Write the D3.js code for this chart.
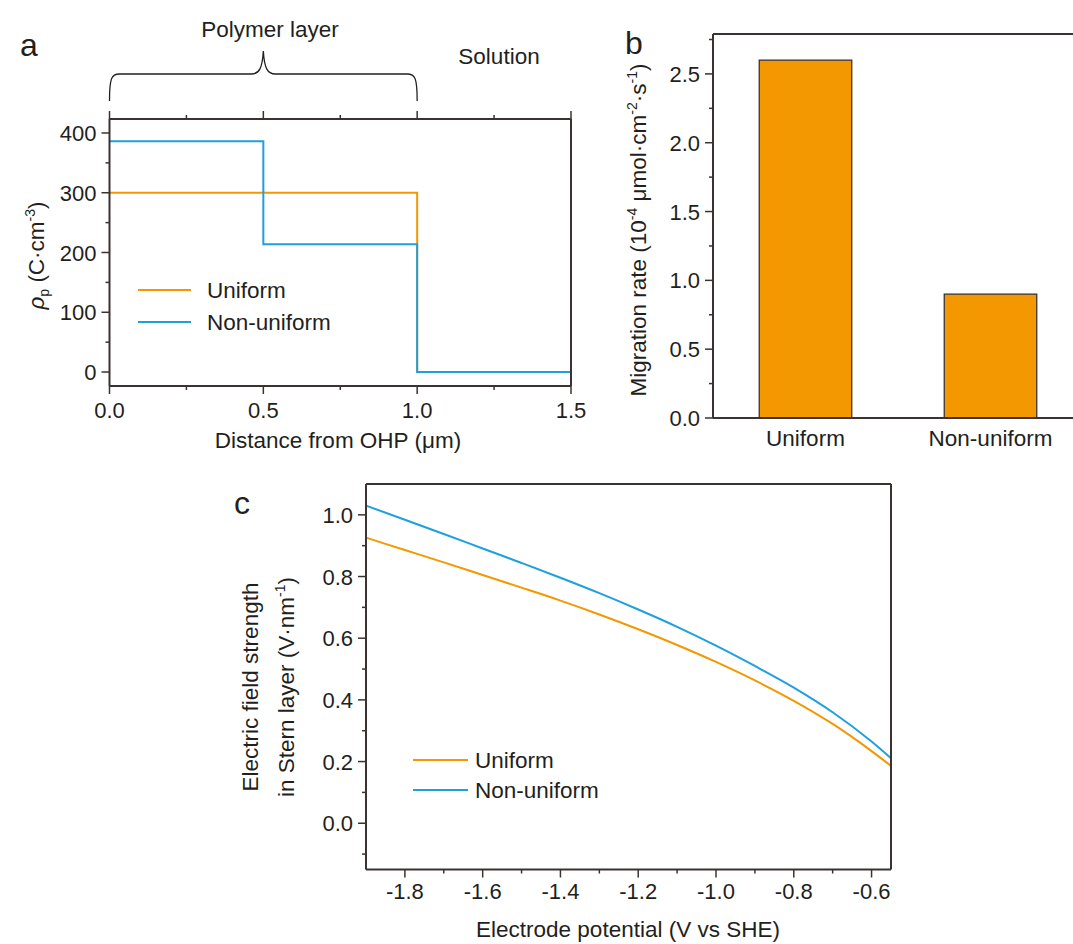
<!DOCTYPE html>
<html>
<head>
<meta charset="utf-8">
<script src="https://cdn.jsdelivr.net/npm/d3@7"></script>
<style>
  html, body { margin: 0; padding: 0; background: #fff; }
  svg { display: block; font-family: "Liberation Sans", Arial, sans-serif; }
  text { fill: #231f20; }
</style>
</head>
<body>
<svg id="fig" width="1073" height="944"></svg>
<script>
// ---- data ----
// panel a: charge density profiles (step functions)
const distUniform = [0, 1.0, 1.0, 1.5];
const rhoUniform = [300, 300, 0, 0];
const distNonUniform = [0, 0.5, 0.5, 1.0, 1.0, 1.5];
const rhoNonUniform = [386, 386, 214, 214, 0, 0];
const ticksA_x = [0, 0.5, 1.0, 1.5];
const ticksA_y = [0, 100, 200, 300, 400];

// panel b: migration rates
const categories = ["Uniform", "Non-uniform"];
const migrationRate = [2.6, 0.9];
const ticksB_y = [0, 0.5, 1.0, 1.5, 2.0, 2.5];

// panel c: electric field in Stern layer vs electrode potential
const potential = [-1.9, -1.8, -1.7, -1.6, -1.5, -1.4, -1.3, -1.2, -1.1, -1.0, -0.9, -0.8, -0.7, -0.6, -0.55];
const fieldUniform = [0.926, 0.886, 0.846, 0.805, 0.764, 0.722, 0.677, 0.629, 0.578, 0.523, 0.463, 0.397, 0.322, 0.234, 0.186];
const fieldNonUniform = [1.030, 0.984, 0.938, 0.891, 0.844, 0.796, 0.746, 0.693, 0.637, 0.576, 0.510, 0.440, 0.360, 0.265, 0.211];
const ticksC_x = [-1.8, -1.6, -1.4, -1.2, -1.0, -0.8, -0.6];
const ticksC_y = [0.0, 0.2, 0.4, 0.6, 0.8, 1.0];

const ORANGE = "#f39800";
const BLUE = "#1fa0de";
const AXIS = "#3b3331";
const TICK_FONT = 22;
const LABEL_FONT = 22.5;
const SUP = 14;

const svg = d3.select("#fig");

// draw ticks along an axis line
function ticks(g, vals, pos, orient, len) {
  vals.forEach(v => {
    const p = pos(v);
    let x1, y1, x2, y2;
    if (orient.type === "left") { x1 = orient.at; x2 = orient.at - len; y1 = y2 = p; }
    if (orient.type === "bottom") { y1 = orient.at; y2 = orient.at + len; x1 = x2 = p; }
    if (orient.type === "top") { y1 = orient.at; y2 = orient.at - len; x1 = x2 = p; }
    g.append("line").attr("x1", x1).attr("y1", y1).attr("x2", x2).attr("y2", y2)
      .attr("stroke", AXIS).attr("stroke-width", 1.5);
  });
}
function frameLine(g, x1, y1, x2, y2) {
  g.append("line").attr("x1", x1).attr("y1", y1).attr("x2", x2).attr("y2", y2)
    .attr("stroke", AXIS).attr("stroke-width", 2);
}
function range(a, b, s) { const r = []; for (let v = a; v <= b + 1e-9; v += s) r.push(+v.toFixed(4)); return r; }

// ================= panel a =================
{
  const g = svg.append("g");
  const x = d3.scaleLinear().domain([0, 1.5]).range([109.5, 571]);
  const y = d3.scaleLinear().domain([-23.4, 423.4]).range([386, 119]);
  const [L, R] = x.range(), [B, T] = y.range();

  const line = d3.line().x(d => x(d[0])).y(d => y(d[1]));
  g.append("path").datum(distUniform.map((d, i) => [d, rhoUniform[i]]))
    .attr("d", line).attr("fill", "none").attr("stroke", ORANGE).attr("stroke-width", 2);
  g.append("path").datum(distNonUniform.map((d, i) => [d, rhoNonUniform[i]]))
    .attr("d", line).attr("fill", "none").attr("stroke", BLUE).attr("stroke-width", 2);

  frameLine(g, L, T, R, T); frameLine(g, L, B, R, B);
  frameLine(g, L, T, L, B); frameLine(g, R, T, R, B);

  ticks(g, ticksA_x, x, { type: "bottom", at: B }, 8);
  ticks(g, range(0.25, 1.25, 0.5), x, { type: "bottom", at: B }, 4);
  ticks(g, ticksA_x, x, { type: "top", at: T }, 8);
  ticks(g, range(0.25, 1.25, 0.5), x, { type: "top", at: T }, 4);
  ticks(g, ticksA_y, y, { type: "left", at: L }, 8);
  ticks(g, range(50, 350, 100), y, { type: "left", at: L }, 4);

  ticksA_x.forEach(v => g.append("text").attr("x", x(v)).attr("y", B + 32)
    .attr("text-anchor", "middle").attr("font-size", TICK_FONT).text(v.toFixed(1)));
  ticksA_y.forEach(v => g.append("text").attr("x", L - 13).attr("y", y(v) + 8)
    .attr("text-anchor", "end").attr("font-size", TICK_FONT).text(v));

  g.append("text").attr("x", 338).attr("y", 448).attr("text-anchor", "middle")
    .attr("font-size", LABEL_FONT).text("Distance from OHP (μm)");

  const yl = g.append("text").attr("transform", `translate(44,${(T + B) / 2 + 3}) rotate(-90)`)
    .attr("text-anchor", "middle").attr("font-size", LABEL_FONT);
  yl.append("tspan").attr("font-style", "italic").text("ρ");
  yl.append("tspan").attr("font-size", SUP).attr("dy", 5).text("p");
  yl.append("tspan").attr("dy", -5).text(" (C·cm");
  yl.append("tspan").attr("font-size", SUP).attr("dy", -9).text("-3");
  yl.append("tspan").attr("dy", 9).text(")");

  // legend
  const leg = [["Uniform", ORANGE, 290], ["Non-uniform", BLUE, 322]];
  leg.forEach(([t, c, yy]) => {
    g.append("line").attr("x1", 138).attr("x2", 191).attr("y1", yy).attr("y2", yy)
      .attr("stroke", c).attr("stroke-width", 2);
    g.append("text").attr("x", 207).attr("y", yy + 8).attr("font-size", LABEL_FONT).text(t);
  });

  // curly brace spanning the polymer layer
  const x0 = x(0), x1 = x(1.0), xm = x(0.5);
  const yEnd = 101, yBar = 74, yTip = 51;
  const brace = `M${x0},${yEnd} C${x0},${yBar + 4} ${x0 + 2},${yBar} ${x0 + 10},${yBar}
    L${xm - 12},${yBar} C${xm - 4},${yBar} ${xm - 1},${yBar - 6} ${xm},${yTip}
    C${xm + 1},${yBar - 6} ${xm + 4},${yBar} ${xm + 12},${yBar}
    L${x1 - 10},${yBar} C${x1 - 2},${yBar} ${x1},${yBar + 4} ${x1},${yEnd}`;
  g.append("path").attr("d", brace).attr("fill", "none").attr("stroke", "#231f20").attr("stroke-width", 1.3);

  g.append("text").attr("x", 270).attr("y", 37).attr("text-anchor", "middle")
    .attr("font-size", LABEL_FONT).text("Polymer layer");
  g.append("text").attr("x", 499).attr("y", 64).attr("text-anchor", "middle")
    .attr("font-size", LABEL_FONT).text("Solution");
  g.append("text").attr("x", 20).attr("y", 56).attr("font-size", 32).text("a");
}

// ================= panel b =================
{
  const g = svg.append("g");
  const x = d3.scaleBand().domain(categories).range([713, 1083]).paddingInner(0.5).paddingOuter(0.25);
  const y = d3.scaleLinear().domain([0, 2.79]).range([418, 34]);
  const L = 713, [B, T] = y.range();

  g.selectAll("rect.bar").data(categories).join("rect").attr("class", "bar")
    .attr("x", d => x(d)).attr("width", x.bandwidth())
    .attr("y", (d, i) => y(migrationRate[i]))
    .attr("height", (d, i) => y(0) - y(migrationRate[i]))
    .attr("fill", ORANGE).attr("stroke", "#3b3331").attr("stroke-width", 1.3);

  frameLine(g, L, T, 1073, T); frameLine(g, L, B, 1073, B);
  frameLine(g, L, T, L, B);
  ticks(g, ticksB_y, y, { type: "left", at: L }, 8);
  ticks(g, range(0.25, 2.75, 0.5), y, { type: "left", at: L }, 4);

  ticksB_y.forEach(v => g.append("text").attr("x", L - 13).attr("y", y(v) + 8)
    .attr("text-anchor", "end").attr("font-size", TICK_FONT).text(v.toFixed(1)));
  categories.forEach(c => g.append("text").attr("x", x(c) + x.bandwidth() / 2).attr("y", B + 28)
    .attr("text-anchor", "middle").attr("font-size", LABEL_FONT).text(c));

  const yl = g.append("text").attr("transform", `translate(646,${(T + B) / 2 + 4}) rotate(-90)`)
    .attr("text-anchor", "middle").attr("font-size", LABEL_FONT);
  yl.append("tspan").text("Migration rate (10");
  yl.append("tspan").attr("font-size", SUP).attr("dy", -9).text("-4");
  yl.append("tspan").attr("dy", 9).text(" μmol·cm");
  yl.append("tspan").attr("font-size", SUP).attr("dy", -9).text("-2");
  yl.append("tspan").attr("dy", 9).text("·s");
  yl.append("tspan").attr("font-size", SUP).attr("dy", -9).text("-1");
  yl.append("tspan").attr("dy", 9).text(")");

  g.append("text").attr("x", 625).attr("y", 54).attr("font-size", 32).text("b");
}

// ================= panel c =================
{
  const g = svg.append("g");
  const x = d3.scaleLinear().domain([-1.9, -0.55]).range([366, 891]);
  const y = d3.scaleLinear().domain([-0.15, 1.1]).range([869.5, 484]);
  const [L, R] = x.range(), [B, T] = y.range();

  const line = d3.line().curve(d3.curveMonotoneX).x(d => x(d[0])).y(d => y(d[1]));
  g.append("path").datum(potential.map((p, i) => [p, fieldUniform[i]]))
    .attr("d", line).attr("fill", "none").attr("stroke", ORANGE).attr("stroke-width", 2);
  g.append("path").datum(potential.map((p, i) => [p, fieldNonUniform[i]]))
    .attr("d", line).attr("fill", "none").attr("stroke", BLUE).attr("stroke-width", 2);

  frameLine(g, L, T, R, T); frameLine(g, L, B, R, B);
  frameLine(g, L, T, L, B); frameLine(g, R, T, R, B);

  ticks(g, ticksC_x, x, { type: "bottom", at: B }, 8);
  ticks(g, range(-1.7, -0.7, 0.2), x, { type: "bottom", at: B }, 4);
  ticks(g, ticksC_y, y, { type: "left", at: L }, 8);
  ticks(g, range(-0.1, 0.9, 0.2), y, { type: "left", at: L }, 4);

  ticksC_x.forEach(v => g.append("text").attr("x", x(v)).attr("y", B + 29)
    .attr("text-anchor", "middle").attr("font-size", TICK_FONT).text(v.toFixed(1)));
  ticksC_y.forEach(v => g.append("text").attr("x", L - 13).attr("y", y(v) + 8)
    .attr("text-anchor", "end").attr("font-size", TICK_FONT).text(v.toFixed(1)));

  g.append("text").attr("x", 628).attr("y", 937).attr("text-anchor", "middle")
    .attr("font-size", LABEL_FONT).text("Electrode potential (V vs SHE)");

  const cy = 687;
  g.append("text").attr("transform", `translate(258,${cy}) rotate(-90)`)
    .attr("text-anchor", "middle").attr("font-size", LABEL_FONT).text("Electric field strength");
  const yl = g.append("text").attr("transform", `translate(294,${cy}) rotate(-90)`)
    .attr("text-anchor", "middle").attr("font-size", LABEL_FONT);
  yl.append("tspan").text("in Stern layer (V·nm");
  yl.append("tspan").attr("font-size", SUP).attr("dy", -9).text("-1");
  yl.append("tspan").attr("dy", 9).text(")");

  const leg = [["Uniform", ORANGE, 760], ["Non-uniform", BLUE, 790]];
  leg.forEach(([t, c, yy]) => {
    g.append("line").attr("x1", 413).attr("x2", 468).attr("y1", yy).attr("y2", yy)
      .attr("stroke", c).attr("stroke-width", 2);
    g.append("text").attr("x", 475).attr("y", yy + 8).attr("font-size", LABEL_FONT).text(t);
  });

  g.append("text").attr("x", 234).attr("y", 514).attr("font-size", 32).text("c");
}
</script>
</body>
</html>
